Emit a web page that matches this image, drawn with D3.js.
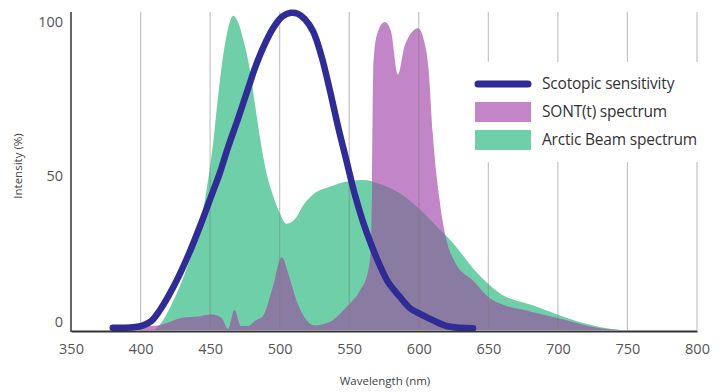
<!DOCTYPE html>
<html>
<head>
<meta charset="utf-8">
<script src="https://cdn.jsdelivr.net/npm/d3@7"></script>
<style>
  html, body { margin: 0; padding: 0; background: #ffffff; }
  svg { display: block; font-family: "Open Sans", "Noto Sans", sans-serif; }
</style>
</head>
<body>
<svg id="chart" width="723" height="392"></svg>
<script>
// ---- Data ----
const xTicks = [350, 400, 450, 500, 550, 600, 650, 700, 750, 800];
const yTicks = [0, 50, 100];
const gridValues = [400, 450, 500, 550, 600, 650, 700, 750, 800];

const scotopicWavelength = [380, 395, 402, 408, 414, 420, 427, 435, 443, 450, 457, 463, 470, 477, 483, 490, 496, 502, 508, 513, 518, 524, 530, 536, 542, 548, 554, 560, 566, 572, 578, 586, 594, 602, 610, 620, 630, 639];
const scotopicValues     = [0.7, 0.9, 1.5, 3, 6.5, 11, 17, 25, 34, 42.5, 51, 59.5, 68.5, 78, 86, 93.5, 98.5, 101.8, 103, 102.7, 101, 97, 89, 78, 66, 55, 44, 35, 27.5, 21, 15.5, 11, 7, 5, 3.2, 1.3, 0.7, 0.6];

const sontWavelength = [385, 400, 414, 430, 443, 451, 458, 463, 467.5, 472, 477, 483, 488, 494.5, 501.5, 507, 512.5, 518, 525, 536, 548, 558, 563, 565.5, 566.5, 567.3, 570, 575.5, 580, 585, 590, 599.5, 604.5, 607, 610, 615, 620, 626, 639, 653, 682, 706, 730, 745];
const sontValues     = [0, 1, 1.6, 4, 4.5, 5, 4, 0.3, 6.5, 1.3, 1.3, 3.2, 4.5, 13, 23.5, 17, 9, 4, 1.5, 2.6, 7.5, 13, 18, 26, 48, 85, 96, 100, 97, 83, 92.5, 98, 92.5, 85, 64, 42, 29, 22, 16, 9.7, 5.8, 3.2, 0.6, 0];

const arcticWavelength = [410, 416, 422, 428, 434, 440, 445, 449, 452.5, 455.5, 459, 462.5, 466.5, 470, 474, 478, 482, 486, 490, 495, 500, 505, 511, 517, 524, 536, 550, 560, 572, 586, 600, 612, 625, 642, 658, 682, 706, 730, 745];
const arcticValues     = [0, 3, 8, 14, 21, 29, 39, 50, 62, 75, 88, 97, 102, 100, 94, 86, 74, 62, 52, 44, 38, 34.5, 36, 40.5, 44, 46.5, 48.4, 48.7, 47.4, 44.5, 39.5, 34, 28, 18.5, 12, 8, 4, 1, 0];

const seriesNames = ["Scotopic sensitivity", "SONT(t) spectrum", "Arctic Beam spectrum"];
const colors = { scotopic: "#2f2c95", sont: "#c286c8", arctic: "#6fcfa8", overlap: "#8a7ba2" };

// ---- Setup ----
const svg = d3.select("#chart");
const x = d3.scaleLinear().domain([350, 800]).range([71, 697]);
const y = d3.scaleLinear().domain([0, 100]).range([330, 22]);

const toPoints = (ws, vs) => ws.map((w, i) => ({ w, v: vs[i] }));
const scotopic = toPoints(scotopicWavelength, scotopicValues);
const sont = toPoints(sontWavelength, sontValues);
const arctic = toPoints(arcticWavelength, arcticValues);

const area = d3.area().x(d => x(d.w)).y0(y(0)).y1(d => y(d.v)).curve(d3.curveMonotoneX);
const line = d3.line().x(d => x(d.w)).y(d => y(d.v)).curve(d3.curveCatmullRom.alpha(0.5));

const defs = svg.append("defs");
defs.append("clipPath").attr("id", "arcticClip")
  .append("path").attr("d", area(arctic));

// Areas
svg.append("path").attr("d", area(arctic)).attr("fill", colors.arctic);
svg.append("path").attr("d", area(sont)).attr("fill", colors.sont);
svg.append("path").attr("d", area(sont)).attr("fill", colors.overlap).attr("clip-path", "url(#arcticClip)");

// Gridlines (faint, visible through areas)
svg.append("g").selectAll("line").data(gridValues).join("line")
  .attr("x1", d => x(d)).attr("x2", d => x(d))
  .attr("y1", 12).attr("y2", y(0))
  .attr("stroke", "#7a7a7a").attr("stroke-opacity", 0.45).attr("stroke-width", 1.2);

// Legend background (covers gridlines)
svg.append("rect").attr("x", 468).attr("y", 62).attr("width", 255).attr("height", 100).attr("fill", "#ffffff");

// Scotopic line
svg.append("path").attr("d", line(scotopic))
  .attr("fill", "none").attr("stroke", colors.scotopic)
  .attr("stroke-width", 6.5).attr("stroke-linecap", "round").attr("stroke-linejoin", "round");

// Axes
const xAxis = d3.axisBottom(x).tickValues(xTicks).tickSize(0).tickPadding(13).tickFormat(d3.format("d"));
const gx = svg.append("g").attr("transform", `translate(0,${y(0) + 1})`).call(xAxis);
gx.select(".domain").attr("stroke", "#333").attr("stroke-width", 2);
gx.selectAll("text").attr("font-size", 14.5).attr("fill", "#555").attr("font-family", "Open Sans");

const yAxis = d3.axisLeft(y).tickValues(yTicks).tickSize(0).tickPadding(8);
const gy = svg.append("g").attr("transform", "translate(71,0)").call(yAxis);
gy.select(".domain").remove();
gy.selectAll("text").attr("font-size", 14.5).attr("fill", "#555").attr("font-family", "Open Sans")
  .attr("dy", d => d === 0 ? "-0.25em" : "0.32em");
svg.append("line").attr("x1", 71).attr("x2", 71).attr("y1", 12).attr("y2", y(0) + 2)
  .attr("stroke", "#333").attr("stroke-width", 1.5);

// Axis titles
svg.append("text").attr("x", 385).attr("y", 385).attr("text-anchor", "middle")
  .attr("font-size", 11.5).attr("fill", "#444").text("Wavelength (nm)");
svg.append("text").attr("transform", "translate(22,166) rotate(-90)").attr("text-anchor", "middle")
  .attr("font-size", 11.5).attr("fill", "#444").text("Intensity (%)");

// Legend
const lg = svg.append("g");
lg.append("line").attr("x1", 478).attr("x2", 528).attr("y1", 84).attr("y2", 84)
  .attr("stroke", colors.scotopic).attr("stroke-width", 7).attr("stroke-linecap", "round");
lg.append("rect").attr("x", 475).attr("y", 102).attr("width", 56).attr("height", 20).attr("fill", colors.sont);
lg.append("rect").attr("x", 475).attr("y", 130).attr("width", 56).attr("height", 20).attr("fill", colors.arctic);
const legendY = [84, 112, 140];
lg.selectAll("text.lbl").data(seriesNames).join("text").attr("class", "lbl")
  .attr("x", 542).attr("y", (d, i) => legendY[i]).attr("dy", "0.35em")
  .attr("font-size", 15.5).attr("letter-spacing", "-0.2").attr("fill", "#333").text(d => d);
</script>
</body>
</html>
